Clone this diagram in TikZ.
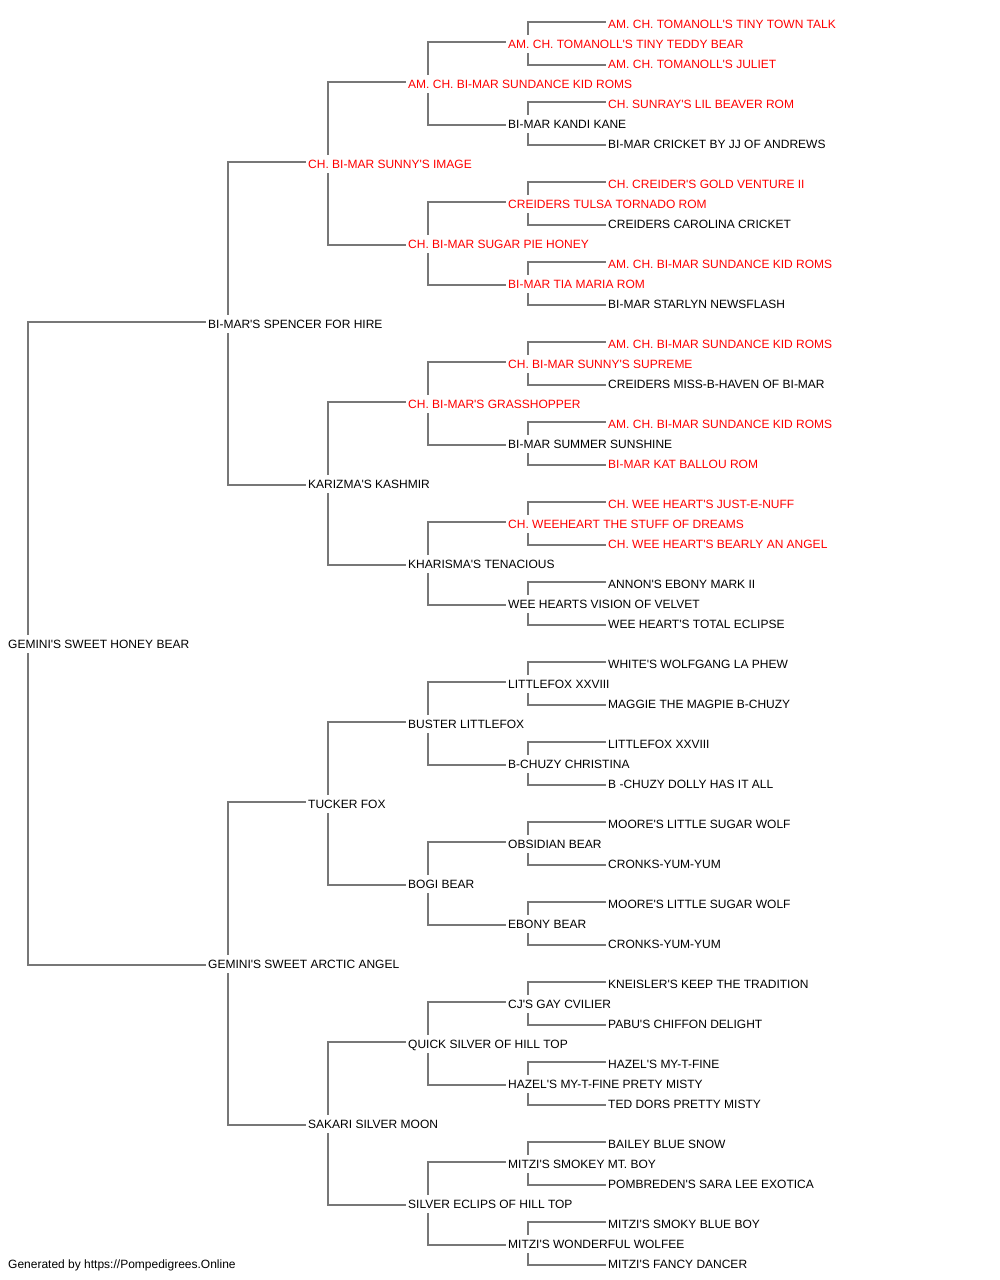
\documentclass[tikz,border=0pt]{standalone}
\usepackage{fontspec}
\setmainfont{Liberation Sans}[Ligatures=TeXOff]
\definecolor{ln}{HTML}{777777}
\definecolor{rd}{HTML}{FF0000}
\tikzset{
  pn/.style={anchor=base west, inner xsep=2pt, inner ysep=4pt, text height=9pt, text depth=1pt, font=\fontsize{12}{14}\selectfont},
  rn/.style={pn, text=rd},
  conn/.style={draw=ln, line width=1.2pt}
}
\begin{document}
\begin{tikzpicture}[x=1pt,y=-1pt]
\useasboundingbox (0,0) rectangle (1000,1280);
% gen 0
\node[pn] (a) at (6,648) {GEMINI'S SWEET HONEY BEAR};
% gen 1
\node[pn] (b1) at (206,328) {BI-MAR'S SPENCER FOR HIRE};
\node[pn] (b2) at (206,968) {GEMINI'S SWEET ARCTIC ANGEL};
% gen 2
\node[rn] (c1) at (306,168) {CH. BI-MAR SUNNY'S IMAGE};
\node[pn] (c2) at (306,488) {KARIZMA'S KASHMIR};
\node[pn] (c3) at (306,808) {TUCKER FOX};
\node[pn] (c4) at (306,1128) {SAKARI SILVER MOON};
% gen 3
\node[rn] (d1) at (406,88) {AM. CH. BI-MAR SUNDANCE KID ROMS};
\node[rn] (d2) at (406,248) {CH. BI-MAR SUGAR PIE HONEY};
\node[rn] (d3) at (406,408) {CH. BI-MAR'S GRASSHOPPER};
\node[pn] (d4) at (406,568) {KHARISMA'S TENACIOUS};
\node[pn] (d5) at (406,728) {BUSTER LITTLEFOX};
\node[pn] (d6) at (406,888) {BOGI BEAR};
\node[pn] (d7) at (406,1048) {QUICK SILVER OF HILL TOP};
\node[pn] (d8) at (406,1208) {SILVER ECLIPS OF HILL TOP};
% gen 4
\node[rn] (e1) at (506,48) {AM. CH. TOMANOLL'S TINY TEDDY BEAR};
\node[pn] (e2) at (506,128) {BI-MAR KANDI KANE};
\node[rn] (e3) at (506,208) {CREIDERS TULSA TORNADO ROM};
\node[rn] (e4) at (506,288) {BI-MAR TIA MARIA ROM};
\node[rn] (e5) at (506,368) {CH. BI-MAR SUNNY'S SUPREME};
\node[pn] (e6) at (506,448) {BI-MAR SUMMER SUNSHINE};
\node[rn] (e7) at (506,528) {CH. WEEHEART THE STUFF OF DREAMS};
\node[pn] (e8) at (506,608) {WEE HEARTS VISION OF VELVET};
\node[pn] (e9) at (506,688) {LITTLEFOX XXVIII};
\node[pn] (e10) at (506,768) {B-CHUZY CHRISTINA};
\node[pn] (e11) at (506,848) {OBSIDIAN BEAR};
\node[pn] (e12) at (506,928) {EBONY BEAR};
\node[pn] (e13) at (506,1008) {CJ'S GAY CVILIER};
\node[pn] (e14) at (506,1088) {HAZEL'S MY-T-FINE PRETY MISTY};
\node[pn] (e15) at (506,1168) {MITZI'S SMOKEY MT. BOY};
\node[pn] (e16) at (506,1248) {MITZI'S WONDERFUL WOLFEE};
% gen 5
\node[rn] (f1) at (606,28) {AM. CH. TOMANOLL'S TINY TOWN TALK};
\node[rn] (f2) at (606,68) {AM. CH. TOMANOLL'S JULIET};
\node[rn] (f3) at (606,108) {CH. SUNRAY'S LIL BEAVER ROM};
\node[pn] (f4) at (606,148) {BI-MAR CRICKET BY JJ OF ANDREWS};
\node[rn] (f5) at (606,188) {CH. CREIDER'S GOLD VENTURE II};
\node[pn] (f6) at (606,228) {CREIDERS CAROLINA CRICKET};
\node[rn] (f7) at (606,268) {AM. CH. BI-MAR SUNDANCE KID ROMS};
\node[pn] (f8) at (606,308) {BI-MAR STARLYN NEWSFLASH};
\node[rn] (f9) at (606,348) {AM. CH. BI-MAR SUNDANCE KID ROMS};
\node[pn] (f10) at (606,388) {CREIDERS MISS-B-HAVEN OF BI-MAR};
\node[rn] (f11) at (606,428) {AM. CH. BI-MAR SUNDANCE KID ROMS};
\node[rn] (f12) at (606,468) {BI-MAR KAT BALLOU ROM};
\node[rn] (f13) at (606,508) {CH. WEE HEART'S JUST-E-NUFF};
\node[rn] (f14) at (606,548) {CH. WEE HEART'S BEARLY AN ANGEL};
\node[pn] (f15) at (606,588) {ANNON'S EBONY MARK II};
\node[pn] (f16) at (606,628) {WEE HEART'S TOTAL ECLIPSE};
\node[pn] (f17) at (606,668) {WHITE'S WOLFGANG LA PHEW};
\node[pn] (f18) at (606,708) {MAGGIE THE MAGPIE B-CHUZY};
\node[pn] (f19) at (606,748) {LITTLEFOX XXVIII};
\node[pn] (f20) at (606,788) {B -CHUZY DOLLY HAS IT ALL};
\node[pn] (f21) at (606,828) {MOORE'S LITTLE SUGAR WOLF};
\node[pn] (f22) at (606,868) {CRONKS-YUM-YUM};
\node[pn] (f23) at (606,908) {MOORE'S LITTLE SUGAR WOLF};
\node[pn] (f24) at (606,948) {CRONKS-YUM-YUM};
\node[pn] (f25) at (606,988) {KNEISLER'S KEEP THE TRADITION};
\node[pn] (f26) at (606,1028) {PABU'S CHIFFON DELIGHT};
\node[pn] (f27) at (606,1068) {HAZEL'S MY-T-FINE};
\node[pn] (f28) at (606,1108) {TED DORS PRETTY MISTY};
\node[pn] (f29) at (606,1148) {BAILEY BLUE SNOW};
\node[pn] (f30) at (606,1188) {POMBREDEN'S SARA LEE EXOTICA};
\node[pn] (f31) at (606,1228) {MITZI'S SMOKY BLUE BOY};
\node[pn] (f32) at (606,1268) {MITZI'S FANCY DANCER};
% footer
\node[pn] (foot) at (6,1268) {Generated by https://Pompedigrees.Online};
% connectors
\newcommand\famlink[3]{%
  \draw[conn] ([xshift=22pt]#1.north west) |- ([yshift=2pt]#2.west);
  \draw[conn] ([xshift=22pt]#1.south west) |- ([yshift=-1pt]#3.west);}
\famlink{a}{b1}{b2}
\famlink{b1}{c1}{c2}
\famlink{b2}{c3}{c4}
\famlink{c1}{d1}{d2}
\famlink{c2}{d3}{d4}
\famlink{c3}{d5}{d6}
\famlink{c4}{d7}{d8}
\famlink{d1}{e1}{e2}
\famlink{d2}{e3}{e4}
\famlink{d3}{e5}{e6}
\famlink{d4}{e7}{e8}
\famlink{d5}{e9}{e10}
\famlink{d6}{e11}{e12}
\famlink{d7}{e13}{e14}
\famlink{d8}{e15}{e16}
\famlink{e1}{f1}{f2}
\famlink{e2}{f3}{f4}
\famlink{e3}{f5}{f6}
\famlink{e4}{f7}{f8}
\famlink{e5}{f9}{f10}
\famlink{e6}{f11}{f12}
\famlink{e7}{f13}{f14}
\famlink{e8}{f15}{f16}
\famlink{e9}{f17}{f18}
\famlink{e10}{f19}{f20}
\famlink{e11}{f21}{f22}
\famlink{e12}{f23}{f24}
\famlink{e13}{f25}{f26}
\famlink{e14}{f27}{f28}
\famlink{e15}{f29}{f30}
\famlink{e16}{f31}{f32}
\end{tikzpicture}
\end{document}
